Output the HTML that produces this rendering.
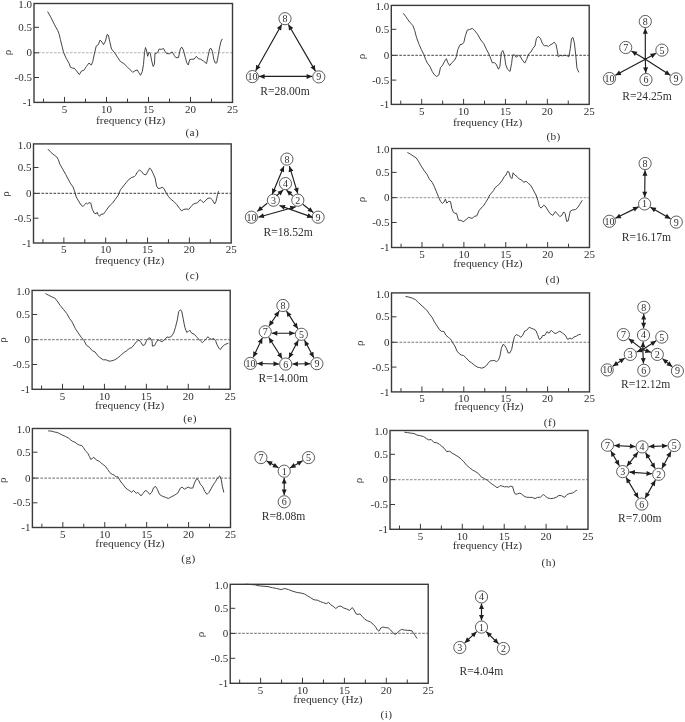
<!DOCTYPE html>
<html><head><meta charset="utf-8"><style>
html,body{margin:0;padding:0;background:#fff;}
body{width:685px;height:722px;overflow:hidden;}
svg{display:block;will-change:transform;}
text{font-family:"Liberation Serif",serif;fill:#303030;}
</style></head><body>
<svg width="685" height="722" viewBox="0 0 685 722">
<rect width="685" height="722" fill="#fff"/>
<line x1="34" y1="52.8" x2="232.5" y2="52.8" stroke="#b0b0b0" stroke-width="1.1" stroke-dasharray="2.6 1.4"/>
<polyline points="47.6,11.5 51,17.6 54.6,24.9 57.8,30.7 59,33.7 60.4,39.5 62.2,46.8 63.6,52.6 66.3,58.5 69.2,63.6 70.4,67.2 72.1,68 74.3,68.3 76.5,70.9 79.4,74.5 81.6,70.9 83.8,70.4 86.4,66.5 88.9,63.1 91.4,65 92.8,61.4 94.3,54.1 96.2,46.1 98.4,44.6 99.9,40.2 101.3,41.2 103.5,44.6 105.4,41.2 107.2,34.4 108.3,35.1 109.8,41.7 111.5,49 114.5,52.6 117.4,57 120.3,61.4 123.9,63.6 127.6,67.2 132.7,72.3 134.9,70.9 137.2,69.9 138.6,72.3 140.5,75.3 142.3,71.6 143.5,64.3 144.5,52.6 145.5,47.5 146.7,51.2 147.7,56.3 148.9,52.3 150.3,53.4 151.8,61.4 153.2,66.5 154.4,64.3 155,53.4 156.2,53.4 157.6,52.6 159.1,49 161.3,49.4 163.5,48.5 164.9,51.2 166.4,53.4 169.3,53.8 172.2,51.9 174.4,55.6 175.9,57.7 178.5,57.5 180.3,49 181.7,47.1 183.2,49.4 185.4,57.7 186.8,62.9 188.3,65 189.7,59.6 191.9,59.2 194.1,59.2 196.3,56.3 198.5,58.8 200.7,59.2 203.6,61.1 206.5,63.6 208,56.3 209.7,49 210.9,48.3 212.4,51.2 213.8,59.2 215.3,63.1 216.8,62.9 218.2,55.6 219.7,46.8 221.1,41 222.3,38.8" fill="none" stroke="#3c3c3c" stroke-width="0.95" stroke-linejoin="round"/>
<path d="M43.49 102.4v-3.8 M64.49 102.4v-5.5 M85.49 102.4v-3.8 M106.49 102.4v-5.5 M127.5 102.4v-3.8 M148.5 102.4v-5.5 M169.5 102.4v-3.8 M190.5 102.4v-5.5 M211.5 102.4v-3.8 M34 27.3h5 M34 52.8h5 M34 77.5h5" stroke="#3a3a3a" stroke-width="1" fill="none"/>
<rect x="34" y="3.5" width="198.5" height="98.9" fill="none" stroke="#3a3a3a" stroke-width="1.4"/>
<text x="64.49" y="112.8" text-anchor="middle" font-size="11">5</text>
<text x="106.49" y="112.8" text-anchor="middle" font-size="11">10</text>
<text x="148.5" y="112.8" text-anchor="middle" font-size="11">15</text>
<text x="190.5" y="112.8" text-anchor="middle" font-size="11">20</text>
<text x="232.5" y="112.8" text-anchor="middle" font-size="11">25</text>
<text x="32" y="8.3" text-anchor="end" font-size="11">1.0</text>
<text x="32" y="30.9" text-anchor="end" font-size="11">0.5</text>
<text x="32" y="56.4" text-anchor="end" font-size="11">0</text>
<text x="32" y="81.1" text-anchor="end" font-size="11">-0.5</text>
<text x="32" y="106" text-anchor="end" font-size="11">-1</text>
<text transform="translate(10.6,52.6) rotate(-90)" text-anchor="middle" font-size="11">ρ</text>
<text x="130.7" y="124.2" text-anchor="middle" font-size="11.4">frequency (Hz)</text>
<text x="192.3" y="135.9" text-anchor="middle" font-size="11.3" letter-spacing="0.4">(a)</text>
<line x1="391.3" y1="55.4" x2="589.2" y2="55.4" stroke="#6a6a6a" stroke-width="1.1" stroke-dasharray="2.6 1.4"/>
<polyline points="403.3,13.3 405.9,16.7 408.9,21.1 411.1,23.7 412.8,25.4 414.7,30.5 416.6,37.8 419.1,44.4 421.3,49.5 423.9,54.6 425.7,59.7 427.4,63.1 429.7,66 432.2,71.4 434.4,74.8 436.6,76.5 438.8,75.1 440.5,67.5 442.4,65.6 444.6,61.2 446.4,58.7 447.8,62.7 449.7,65.6 451.9,62.7 454.6,60.2 456.3,56.8 457.8,49.5 460,44.7 462.4,44.1 463.9,42.2 465.4,35.7 467.3,30.1 469.5,29.5 472.4,28.4 474.6,30.5 477.5,34.2 480.8,40 483.8,43.7 486.2,48.8 489.2,54.6 491.2,59.7 492.2,62.7 494.4,62.7 496.1,64.1 498.5,69.2 499.9,66.3 501.4,52.4 502.8,50.5 504.3,54.6 505.8,64.9 507.5,69.2 510.1,71.4 511.6,63.4 512.6,55.4 514.1,54.6 516.3,57.3 518.5,55.4 519.9,55.8 522.1,59.7 524.7,63.1 526.5,59.7 528.7,53.9 530.9,52 533.1,48.1 535,45.9 536.4,38.6 538.2,36.4 540.4,38.3 542.3,43.2 544.3,45.9 546.9,45.6 548.4,46.6 549.9,45.1 552,44.1 554.2,42.2 556,44.4 557.2,50.3 558.3,56.8 560.1,55.4 562.3,55.8 564.5,55.4 566.6,55.4 568.8,56.8 570.3,48.8 571.5,38.6 572.9,37.4 574.4,43 575.8,55.4 576.9,67.8 578.8,72.4" fill="none" stroke="#3c3c3c" stroke-width="0.95" stroke-linejoin="round"/>
<path d="M400.76 104.4v-3.8 M421.7 104.4v-5.5 M442.64 104.4v-3.8 M463.58 104.4v-5.5 M484.51 104.4v-3.8 M505.45 104.4v-5.5 M526.39 104.4v-3.8 M547.33 104.4v-5.5 M568.26 104.4v-3.8 M391.3 29.3h5 M391.3 55.4h5 M391.3 80.1h5" stroke="#3a3a3a" stroke-width="1" fill="none"/>
<rect x="391.3" y="5.4" width="197.9" height="99" fill="none" stroke="#3a3a3a" stroke-width="1.4"/>
<text x="421.7" y="114.8" text-anchor="middle" font-size="11">5</text>
<text x="463.58" y="114.8" text-anchor="middle" font-size="11">10</text>
<text x="505.45" y="114.8" text-anchor="middle" font-size="11">15</text>
<text x="547.33" y="114.8" text-anchor="middle" font-size="11">20</text>
<text x="589.2" y="114.8" text-anchor="middle" font-size="11">25</text>
<text x="389.3" y="10.2" text-anchor="end" font-size="11">1.0</text>
<text x="389.3" y="32.9" text-anchor="end" font-size="11">0.5</text>
<text x="389.3" y="59" text-anchor="end" font-size="11">0</text>
<text x="389.3" y="83.7" text-anchor="end" font-size="11">-0.5</text>
<text x="389.3" y="108" text-anchor="end" font-size="11">-1</text>
<text transform="translate(365.4,56.4) rotate(-90)" text-anchor="middle" font-size="11">ρ</text>
<text x="487.6" y="126" text-anchor="middle" font-size="11.4">frequency (Hz)</text>
<text x="553.6" y="139.9" text-anchor="middle" font-size="11.3" letter-spacing="0.4">(b)</text>
<line x1="33.5" y1="193.4" x2="231.2" y2="193.4" stroke="#606060" stroke-width="1.1" stroke-dasharray="2.6 1.4"/>
<polyline points="47.9,149.1 51.1,152.5 54.1,155 56.7,156.9 58.4,159.8 59.9,164.2 62.8,169.3 65.7,174.4 68.7,180.2 70.8,183.9 73,186.8 74.8,191.9 76.2,197 78.6,201.1 81.1,205 83,206.5 84.7,204.6 86.2,202.9 87.6,204 89.1,202.6 90.8,203.1 92.3,209.4 94.2,213.1 96.1,213.8 97.1,212.3 98.1,214.5 99.6,216.3 101.1,214.2 103.4,214.1 105.4,211.6 107.8,208 110.3,205 112.7,202.9 115.4,199.2 118,195.6 120.5,189.7 123.4,186.1 126.3,182.4 129.2,179.2 131.7,177.5 134.4,176.6 135.5,175.5 137.2,172.2 139.4,170 141.6,171.5 143.8,174.4 146,174.8 147.8,171.5 149.6,168.1 151.1,169.3 153.2,173.7 155.1,178 156.6,186.1 158.1,188.5 160.1,188.3 162.4,187.1 164.2,189 165.9,192.6 168.3,196.3 170.8,199.2 173.7,201.4 176.6,204.3 179.5,208.4 181.7,210.9 183.9,209.4 186.1,209 188.7,209.4 191.2,206.5 193.4,204 196.3,203.1 197.8,202.6 200,199.6 201.4,200.7 203.6,202.6 205.8,200.2 208,198.2 210.6,198.2 212.4,199.9 214.6,204 216,201.4 217.5,194.8 218.5,191.2" fill="none" stroke="#3c3c3c" stroke-width="0.95" stroke-linejoin="round"/>
<path d="M42.95 243v-3.8 M63.87 243v-5.5 M84.79 243v-3.8 M105.7 243v-5.5 M126.62 243v-3.8 M147.54 243v-5.5 M168.45 243v-3.8 M189.37 243v-5.5 M210.28 243v-3.8 M33.5 167.5h5 M33.5 193.4h5 M33.5 218.2h5" stroke="#3a3a3a" stroke-width="1" fill="none"/>
<rect x="33.5" y="143.9" width="197.7" height="99.1" fill="none" stroke="#3a3a3a" stroke-width="1.4"/>
<text x="63.87" y="253.4" text-anchor="middle" font-size="11">5</text>
<text x="105.7" y="253.4" text-anchor="middle" font-size="11">10</text>
<text x="147.54" y="253.4" text-anchor="middle" font-size="11">15</text>
<text x="189.37" y="253.4" text-anchor="middle" font-size="11">20</text>
<text x="231.2" y="253.4" text-anchor="middle" font-size="11">25</text>
<text x="31.5" y="148.7" text-anchor="end" font-size="11">1.0</text>
<text x="31.5" y="171.1" text-anchor="end" font-size="11">0.5</text>
<text x="31.5" y="197" text-anchor="end" font-size="11">0</text>
<text x="31.5" y="221.8" text-anchor="end" font-size="11">-0.5</text>
<text x="31.5" y="246.6" text-anchor="end" font-size="11">-1</text>
<text transform="translate(8.6,193.9) rotate(-90)" text-anchor="middle" font-size="11">ρ</text>
<text x="129.6" y="264.2" text-anchor="middle" font-size="11.4">frequency (Hz)</text>
<text x="192.4" y="279.1" text-anchor="middle" font-size="11.3" letter-spacing="0.4">(c)</text>
<line x1="391.6" y1="197.6" x2="589.5" y2="197.6" stroke="#a8a8a8" stroke-width="1.1" stroke-dasharray="2.6 1.4"/>
<polyline points="407.4,152.4 410.3,154.1 413.2,156 416.2,157.9 418.4,161.1 421,165.8 424.2,170.6 427.1,174.6 429.3,179 432.2,182.3 434.1,186.2 436.2,191.1 438.5,196.9 440.5,201.3 442.4,203.5 443.9,202 445.4,199.1 446.8,203.2 448.7,201.3 450.5,201.7 451.9,208.6 453.4,212.2 455.1,213.4 456.6,213.4 458.5,220.3 460.7,220.3 463.3,221.7 465.8,219.8 468.7,217.3 472.1,218.4 474.6,216.3 476.8,215.9 478.9,210.8 481.1,208.1 483.3,206.1 485.5,202.7 488.1,198.4 489.9,194.7 492.1,192.5 493.5,190.6 495.1,187.7 497.3,186 500.2,183 502.4,180.1 504.3,176.5 506.1,175 507.5,171.4 509,172.1 510.4,177.2 511.9,178.7 513.1,172.8 514.8,175 517,176.5 519.2,179 521.4,179.8 523.6,182.3 526.2,181.3 528.2,183.3 530.6,185.2 533.1,189.6 536,195 537.9,200.6 539.3,206.4 541.1,208.1 543.7,205.2 545.5,206.4 547.7,210 549.9,213.4 552.8,215.4 555.4,211.5 557.2,213.7 559.8,216.6 561.8,215.4 563.7,211.9 565.2,213.7 566.6,221.3 568.1,221 570.3,211.1 572.5,210 575.4,209.6 577.6,207.6 579.8,204.2 582.3,200.3" fill="none" stroke="#3c3c3c" stroke-width="0.95" stroke-linejoin="round"/>
<path d="M401.06 247.5v-3.8 M422 247.5v-5.5 M442.94 247.5v-3.8 M463.88 247.5v-5.5 M484.81 247.5v-3.8 M505.75 247.5v-5.5 M526.69 247.5v-3.8 M547.63 247.5v-5.5 M568.56 247.5v-3.8 M391.6 172.4h5 M391.6 197.6h5 M391.6 222.5h5" stroke="#3a3a3a" stroke-width="1" fill="none"/>
<rect x="391.6" y="148.5" width="197.9" height="99" fill="none" stroke="#3a3a3a" stroke-width="1.4"/>
<text x="422" y="257.9" text-anchor="middle" font-size="11">5</text>
<text x="463.88" y="257.9" text-anchor="middle" font-size="11">10</text>
<text x="505.75" y="257.9" text-anchor="middle" font-size="11">15</text>
<text x="547.63" y="257.9" text-anchor="middle" font-size="11">20</text>
<text x="589.5" y="257.9" text-anchor="middle" font-size="11">25</text>
<text x="389.6" y="153.3" text-anchor="end" font-size="11">1.0</text>
<text x="389.6" y="176" text-anchor="end" font-size="11">0.5</text>
<text x="389.6" y="201.2" text-anchor="end" font-size="11">0</text>
<text x="389.6" y="226.1" text-anchor="end" font-size="11">-0.5</text>
<text x="389.6" y="251.1" text-anchor="end" font-size="11">-1</text>
<text transform="translate(365.4,199.4) rotate(-90)" text-anchor="middle" font-size="11">ρ</text>
<text x="487.9" y="266.7" text-anchor="middle" font-size="11.4">frequency (Hz)</text>
<text x="552.7" y="282.7" text-anchor="middle" font-size="11.3" letter-spacing="0.4">(d)</text>
<line x1="32.1" y1="339.6" x2="230.2" y2="339.6" stroke="#888" stroke-width="1.1" stroke-dasharray="2.6 1.4"/>
<polyline points="45.5,293.6 48.4,295.1 52.1,297 54.7,298 57.2,301 60.1,305.3 63.7,309.7 66.7,313.4 69.6,318.5 72.2,322.1 75.1,328.2 78.3,333.1 81.3,337.4 84.2,340.8 86.4,345.2 89.3,347.2 92.2,350.6 95.1,352 97.3,355 100.2,357.9 103.4,359.8 106.1,359.8 109,361.2 111.9,360.8 114.8,359.8 117.8,357.9 120.7,355.4 123.6,352.8 126.8,350.6 129.4,348.4 131.6,347.7 134.2,344.7 136.4,341.8 139,339.9 141.1,342.6 142.9,345.5 144.8,344.7 146.6,340.4 148.4,338.2 150.2,337.9 152.1,341.1 152.4,346.2 154.6,345.5 156.1,342.6 158,339.9 159.7,340.4 161.9,341.8 164.4,339.9 167,337 169.2,337.4 171.4,336.4 173.6,333.1 175.5,327.2 177.3,319.9 178.7,311.6 180.5,309.7 181.9,311.9 183.4,319.9 184.8,327.2 186.7,332.3 188.2,331.6 189.7,330.1 191.6,333.1 194,334.1 196.2,336.4 198.4,338.9 200.6,341.1 202.4,342.6 204.3,340.8 206.5,338.5 207.9,336.7 209.7,338.5 211.6,339.3 213.8,338.5 215.5,340.4 217,344.7 218.9,348.1 220.3,349.6 222.2,346.9 224.7,344.7 226.9,343.7 228.4,343.3" fill="none" stroke="#3c3c3c" stroke-width="0.95" stroke-linejoin="round"/>
<path d="M41.57 389.3v-3.8 M62.53 389.3v-5.5 M83.49 389.3v-3.8 M104.45 389.3v-5.5 M125.41 389.3v-3.8 M146.37 389.3v-5.5 M167.32 389.3v-3.8 M188.28 389.3v-5.5 M209.24 389.3v-3.8 M32.1 314.5h5 M32.1 339.6h5 M32.1 364.5h5" stroke="#3a3a3a" stroke-width="1" fill="none"/>
<rect x="32.1" y="290.4" width="198.1" height="98.9" fill="none" stroke="#3a3a3a" stroke-width="1.4"/>
<text x="62.53" y="399.7" text-anchor="middle" font-size="11">5</text>
<text x="104.45" y="399.7" text-anchor="middle" font-size="11">10</text>
<text x="146.37" y="399.7" text-anchor="middle" font-size="11">15</text>
<text x="188.28" y="399.7" text-anchor="middle" font-size="11">20</text>
<text x="230.2" y="399.7" text-anchor="middle" font-size="11">25</text>
<text x="30.1" y="295.2" text-anchor="end" font-size="11">1.0</text>
<text x="30.1" y="318.1" text-anchor="end" font-size="11">0.5</text>
<text x="30.1" y="343.2" text-anchor="end" font-size="11">0</text>
<text x="30.1" y="368.1" text-anchor="end" font-size="11">-0.5</text>
<text x="30.1" y="392.9" text-anchor="end" font-size="11">-1</text>
<text transform="translate(6.3,340.1) rotate(-90)" text-anchor="middle" font-size="11">ρ</text>
<text x="129.6" y="408.6" text-anchor="middle" font-size="11.4">frequency (Hz)</text>
<text x="190" y="422.1" text-anchor="middle" font-size="11.3" letter-spacing="0.4">(e)</text>
<line x1="391.5" y1="342.3" x2="589.5" y2="342.3" stroke="#777" stroke-width="1.1" stroke-dasharray="2.6 1.4"/>
<polyline points="405.5,296.4 408.9,297.1 412.2,298.1 415.4,299.6 418.4,302.5 422,305.9 424.9,308.4 427.4,311 429.3,313.9 432.2,317.5 434.4,321.9 437,325.9 439.5,329.7 441.4,331.4 443.9,331.4 445.8,335.1 448.3,337.3 450.5,339 452.7,342.8 454.9,346 457,351.1 459.2,353.6 461.4,355.1 463.6,355.5 466.2,358 468.7,360.9 471.6,362.8 474.6,365.3 477.5,367.2 479.7,367.6 481.9,368.2 484.3,367.2 486.7,365.3 488.4,362.8 490.2,360.9 492.8,360.6 494.1,360.3 496.6,361.8 498.5,359.9 499.9,356.2 501.4,348.2 503.1,344.3 504.6,345.3 506.4,348.2 508.2,353 509.7,353 511.6,349.7 513.1,342.4 514.5,336.5 516.3,334.6 518.5,335.5 520.9,337.3 522.8,335.1 524.7,331.1 526.8,330.2 529.1,327.3 531.2,328.2 533.8,329.2 536,330.7 537.4,334.3 539.3,339.4 541.1,338.4 542.6,335.5 544.7,335.5 546.9,331.7 549.1,333.2 551.3,330.2 553.1,332.1 555,333.6 557.4,332.6 559.8,331.1 562.3,332.9 565.2,335.1 567.7,339.4 570,338 571.8,339 573.9,337 576.4,336.1 578.8,334.6 580.8,334.3" fill="none" stroke="#3c3c3c" stroke-width="0.95" stroke-linejoin="round"/>
<path d="M400.97 391.9v-3.8 M421.92 391.9v-5.5 M442.86 391.9v-3.8 M463.81 391.9v-5.5 M484.76 391.9v-3.8 M505.71 391.9v-5.5 M526.66 391.9v-3.8 M547.6 391.9v-5.5 M568.55 391.9v-3.8 M391.5 316.8h5 M391.5 342.3h5 M391.5 367.1h5" stroke="#3a3a3a" stroke-width="1" fill="none"/>
<rect x="391.5" y="292.9" width="198" height="99" fill="none" stroke="#3a3a3a" stroke-width="1.4"/>
<text x="421.92" y="402.3" text-anchor="middle" font-size="11">5</text>
<text x="463.81" y="402.3" text-anchor="middle" font-size="11">10</text>
<text x="505.71" y="402.3" text-anchor="middle" font-size="11">15</text>
<text x="547.6" y="402.3" text-anchor="middle" font-size="11">20</text>
<text x="589.5" y="402.3" text-anchor="middle" font-size="11">25</text>
<text x="389.5" y="297.7" text-anchor="end" font-size="11">1.0</text>
<text x="389.5" y="320.4" text-anchor="end" font-size="11">0.5</text>
<text x="389.5" y="345.9" text-anchor="end" font-size="11">0</text>
<text x="389.5" y="370.7" text-anchor="end" font-size="11">-0.5</text>
<text x="389.5" y="395.5" text-anchor="end" font-size="11">-1</text>
<text transform="translate(363.1,343.2) rotate(-90)" text-anchor="middle" font-size="11">ρ</text>
<text x="489" y="409.7" text-anchor="middle" font-size="11.4">frequency (Hz)</text>
<text x="550" y="425.7" text-anchor="middle" font-size="11.3" letter-spacing="0.4">(f)</text>
<line x1="32.4" y1="478.1" x2="230.5" y2="478.1" stroke="#888" stroke-width="1.1" stroke-dasharray="2.6 1.4"/>
<polyline points="48.2,430.9 51.9,431.2 54.8,432.1 57,432.4 59.9,433.8 62.8,435.3 65.7,436.5 68.7,438.2 70.8,440 72.7,441.4 75.2,442.3 77.4,444.1 79.6,445.2 81.8,445.5 83.5,447.7 85.4,450.6 87.9,453.5 89.4,456.5 90.8,459.4 92.3,458.4 93.8,457.2 95.2,459 97.1,460.4 99.3,461.3 101.1,463 103.4,464.8 105.4,466.2 107.8,469.6 109.8,472.5 112.2,474.4 114.2,475 116.1,476.9 117.6,476.5 119,478.8 120.9,482 123.4,484.9 125.6,487.9 127.8,489.6 129.7,490.8 131.4,492.2 133.6,490.5 135.1,492.2 136.5,493.4 137.6,492.2 141,495.9 143,493.4 145.4,490.5 147.4,491.5 149.8,494.4 151.8,492.2 153.7,487.6 155.6,486.4 157.4,489.3 159.5,494.4 162.5,496.3 165.4,497.3 168.3,498.5 171.2,496.9 174.6,495.2 177.8,493 180.4,488.1 182.2,487.1 184.4,489.3 186.3,488.1 188.3,487.1 190.2,488.1 192.7,488.1 194.6,482.7 196.8,478.4 198.5,480.3 200.4,484.2 202.6,486.7 204.8,491.5 207,494.4 209.2,492.2 211.4,488.1 213.6,484.2 215.5,481.7 217.2,478.4 219.8,475.9 221.3,479.8 222.3,486.1 223.8,492.5" fill="none" stroke="#3c3c3c" stroke-width="0.95" stroke-linejoin="round"/>
<path d="M41.87 527.5v-3.8 M62.83 527.5v-5.5 M83.79 527.5v-3.8 M104.75 527.5v-5.5 M125.71 527.5v-3.8 M146.67 527.5v-5.5 M167.62 527.5v-3.8 M188.58 527.5v-5.5 M209.54 527.5v-3.8 M32.4 452.2h5 M32.4 478.1h5 M32.4 502.8h5" stroke="#3a3a3a" stroke-width="1" fill="none"/>
<rect x="32.4" y="428.5" width="198.1" height="99" fill="none" stroke="#3a3a3a" stroke-width="1.4"/>
<text x="62.83" y="537.9" text-anchor="middle" font-size="11">5</text>
<text x="104.75" y="537.9" text-anchor="middle" font-size="11">10</text>
<text x="146.67" y="537.9" text-anchor="middle" font-size="11">15</text>
<text x="188.58" y="537.9" text-anchor="middle" font-size="11">20</text>
<text x="230.5" y="537.9" text-anchor="middle" font-size="11">25</text>
<text x="30.4" y="433.3" text-anchor="end" font-size="11">1.0</text>
<text x="30.4" y="455.8" text-anchor="end" font-size="11">0.5</text>
<text x="30.4" y="481.7" text-anchor="end" font-size="11">0</text>
<text x="30.4" y="506.4" text-anchor="end" font-size="11">-0.5</text>
<text x="30.4" y="531.1" text-anchor="end" font-size="11">-1</text>
<text transform="translate(6.3,480.3) rotate(-90)" text-anchor="middle" font-size="11">ρ</text>
<text x="130" y="547.2" text-anchor="middle" font-size="11.4">frequency (Hz)</text>
<text x="188.5" y="562.1" text-anchor="middle" font-size="11.3" letter-spacing="0.4">(g)</text>
<line x1="390" y1="479.6" x2="588" y2="479.6" stroke="#a0a0a0" stroke-width="1.1" stroke-dasharray="2.6 1.4"/>
<polyline points="404.4,432.2 407.6,432.6 411.2,433.2 414.2,433.6 417.1,435.1 420.7,435.8 423.7,436.6 426.3,438.5 428.8,439.9 431.2,439.5 433.9,442.4 436.8,442.8 439.4,444.3 441.9,446.4 444.1,448.2 446.7,451.6 449.6,451.2 452.1,453.1 455,454.8 458,456.6 461.3,459.2 463.8,461.8 466.7,465.3 469.6,467.7 472.6,470.1 475.5,471.6 478.4,473.5 481.3,477 484.2,478.5 487.6,480.4 490.1,482.6 492.2,484.3 494.4,485.5 497,487.7 498.8,486.9 500.2,485.5 502.4,486.2 504.6,486.9 506.4,486.6 508.7,487.2 510.4,486.2 512.6,486.6 514.1,492 515.5,494.2 517.4,493.9 519.9,493.1 521.8,494.2 523.9,496 526.2,497.2 529.4,497.4 532.3,497.4 535,498.6 537.4,497.4 540.4,497.2 542.3,495.4 543.7,494.5 545.5,496.4 547.7,497.9 550.6,498.6 553.5,498.3 556.4,497.2 558.9,495.4 561.5,495.7 564.5,497.4 567.1,494.5 569.6,493.5 572.5,493.1 574.7,491.6 576.9,490.1" fill="none" stroke="#3c3c3c" stroke-width="0.95" stroke-linejoin="round"/>
<path d="M399.47 529.3v-3.8 M420.42 529.3v-5.5 M441.36 529.3v-3.8 M462.31 529.3v-5.5 M483.26 529.3v-3.8 M504.21 529.3v-5.5 M525.16 529.3v-3.8 M546.1 529.3v-5.5 M567.05 529.3v-3.8 M390 454.3h5 M390 479.6h5 M390 504.5h5" stroke="#3a3a3a" stroke-width="1" fill="none"/>
<rect x="390" y="430.5" width="198" height="98.8" fill="none" stroke="#3a3a3a" stroke-width="1.4"/>
<text x="420.42" y="539.7" text-anchor="middle" font-size="11">5</text>
<text x="462.31" y="539.7" text-anchor="middle" font-size="11">10</text>
<text x="504.21" y="539.7" text-anchor="middle" font-size="11">15</text>
<text x="546.1" y="539.7" text-anchor="middle" font-size="11">20</text>
<text x="588" y="539.7" text-anchor="middle" font-size="11">25</text>
<text x="388" y="435.3" text-anchor="end" font-size="11">1.0</text>
<text x="388" y="457.9" text-anchor="end" font-size="11">0.5</text>
<text x="388" y="483.2" text-anchor="end" font-size="11">0</text>
<text x="388" y="508.1" text-anchor="end" font-size="11">-0.5</text>
<text x="388" y="532.9" text-anchor="end" font-size="11">-1</text>
<text transform="translate(362.1,480.4) rotate(-90)" text-anchor="middle" font-size="11">ρ</text>
<text x="487.4" y="548.9" text-anchor="middle" font-size="11.4">frequency (Hz)</text>
<text x="548.8" y="566.1" text-anchor="middle" font-size="11.3" letter-spacing="0.4">(h)</text>
<line x1="230.2" y1="633.4" x2="428.2" y2="633.4" stroke="#888" stroke-width="1.1" stroke-dasharray="2.6 1.4"/>
<polyline points="245.4,584.2 254.9,584.8 259.3,585.9 268,586.6 272.4,587.7 276.8,588.5 281.2,589.6 284.8,588.5 288.5,589.6 292.9,591.3 297.2,592.5 300.9,593 304.5,594 307.5,595.8 310.4,597.6 314,599.8 317.4,600.2 320.6,601.7 323.5,602.7 326.4,603.7 328.6,602.3 330.5,604.6 332.9,606.1 335.8,608.5 338.5,606.4 340.9,606.1 343.9,608.1 346.8,609 349.7,610.4 352.2,607.5 354.1,610 356,613.9 358,614.4 359.9,613.9 362.1,616.3 364.7,619.2 367.2,620.7 370.1,621.7 373.1,624.2 375.5,626.8 377.4,630 378.9,631.2 380.8,628 382.8,627.1 385.5,627.5 388.4,628 390.6,630 392.8,632.6 395,634.4 396.9,633.4 398.9,631.2 401.5,629.4 404.5,630 407.4,630.4 410,630.4 412,630.9 413.9,633.8 415.4,635.8 416.9,638.5" fill="none" stroke="#3c3c3c" stroke-width="0.95" stroke-linejoin="round"/>
<path d="M239.67 683.3v-3.8 M260.62 683.3v-5.5 M281.56 683.3v-3.8 M302.51 683.3v-5.5 M323.46 683.3v-3.8 M344.41 683.3v-5.5 M365.36 683.3v-3.8 M386.3 683.3v-5.5 M407.25 683.3v-3.8 M230.2 608.3h5 M230.2 633.4h5 M230.2 658.3h5" stroke="#3a3a3a" stroke-width="1" fill="none"/>
<rect x="230.2" y="584.3" width="198" height="99" fill="none" stroke="#3a3a3a" stroke-width="1.4"/>
<text x="260.62" y="693.7" text-anchor="middle" font-size="11">5</text>
<text x="302.51" y="693.7" text-anchor="middle" font-size="11">10</text>
<text x="344.41" y="693.7" text-anchor="middle" font-size="11">15</text>
<text x="386.3" y="693.7" text-anchor="middle" font-size="11">20</text>
<text x="428.2" y="693.7" text-anchor="middle" font-size="11">25</text>
<text x="228.2" y="589.1" text-anchor="end" font-size="11">1.0</text>
<text x="228.2" y="611.9" text-anchor="end" font-size="11">0.5</text>
<text x="228.2" y="637" text-anchor="end" font-size="11">0</text>
<text x="228.2" y="661.9" text-anchor="end" font-size="11">-0.5</text>
<text x="228.2" y="686.9" text-anchor="end" font-size="11">-1</text>
<text transform="translate(204.2,634.6) rotate(-90)" text-anchor="middle" font-size="11">ρ</text>
<text x="327.9" y="702.5" text-anchor="middle" font-size="11.4">frequency (Hz)</text>
<text x="386.5" y="718.1" text-anchor="middle" font-size="11.3" letter-spacing="0.4">(i)</text>
<circle cx="285" cy="18.7" r="6.1" fill="#fff" stroke="#333" stroke-width="0.8"/>
<text x="285" y="22.1" text-anchor="middle" font-size="10">8</text>
<circle cx="252.4" cy="76.6" r="6.1" fill="#fff" stroke="#333" stroke-width="0.8"/>
<text x="252.4" y="80" text-anchor="middle" font-size="10" textLength="10" lengthAdjust="spacingAndGlyphs">10</text>
<circle cx="318.8" cy="76.9" r="6.1" fill="#fff" stroke="#333" stroke-width="0.8"/>
<text x="318.8" y="80.3" text-anchor="middle" font-size="10">9</text>
<text x="285" y="95" text-anchor="middle" font-size="11.6">R=28.00m</text>
<circle cx="645.3" cy="21.5" r="6.1" fill="#fff" stroke="#333" stroke-width="0.8"/>
<text x="645.3" y="24.9" text-anchor="middle" font-size="10">8</text>
<circle cx="625.7" cy="47.5" r="6.1" fill="#fff" stroke="#333" stroke-width="0.8"/>
<text x="625.7" y="50.9" text-anchor="middle" font-size="10">7</text>
<circle cx="661.9" cy="50.1" r="6.1" fill="#fff" stroke="#333" stroke-width="0.8"/>
<text x="661.9" y="53.5" text-anchor="middle" font-size="10">5</text>
<circle cx="609.5" cy="78.5" r="6.1" fill="#fff" stroke="#333" stroke-width="0.8"/>
<text x="609.5" y="81.9" text-anchor="middle" font-size="10" textLength="10" lengthAdjust="spacingAndGlyphs">10</text>
<circle cx="646" cy="79.6" r="6.1" fill="#fff" stroke="#333" stroke-width="0.8"/>
<text x="646" y="83" text-anchor="middle" font-size="10">6</text>
<circle cx="676" cy="78.9" r="6.1" fill="#fff" stroke="#333" stroke-width="0.8"/>
<text x="676" y="82.3" text-anchor="middle" font-size="10">9</text>
<text x="647" y="99.5" text-anchor="middle" font-size="11.6">R=24.25m</text>
<circle cx="286.9" cy="159.1" r="6.1" fill="#fff" stroke="#333" stroke-width="0.8"/>
<text x="286.9" y="162.5" text-anchor="middle" font-size="10">8</text>
<circle cx="285.5" cy="183.6" r="6.1" fill="#fff" stroke="#333" stroke-width="0.8"/>
<text x="285.5" y="187" text-anchor="middle" font-size="10">4</text>
<circle cx="273.4" cy="200.2" r="6.1" fill="#fff" stroke="#333" stroke-width="0.8"/>
<text x="273.4" y="203.6" text-anchor="middle" font-size="10">3</text>
<circle cx="297.8" cy="200.2" r="6.1" fill="#fff" stroke="#333" stroke-width="0.8"/>
<text x="297.8" y="203.6" text-anchor="middle" font-size="10">2</text>
<circle cx="251.4" cy="217.2" r="6.1" fill="#fff" stroke="#333" stroke-width="0.8"/>
<text x="251.4" y="220.6" text-anchor="middle" font-size="10" textLength="10" lengthAdjust="spacingAndGlyphs">10</text>
<circle cx="318.1" cy="217.2" r="6.1" fill="#fff" stroke="#333" stroke-width="0.8"/>
<text x="318.1" y="220.6" text-anchor="middle" font-size="10">9</text>
<text x="288.2" y="235.5" text-anchor="middle" font-size="11.6">R=18.52m</text>
<circle cx="645.1" cy="163.5" r="6.1" fill="#fff" stroke="#333" stroke-width="0.8"/>
<text x="645.1" y="166.9" text-anchor="middle" font-size="10">8</text>
<circle cx="644.6" cy="203.9" r="6.1" fill="#fff" stroke="#333" stroke-width="0.8"/>
<text x="644.6" y="207.3" text-anchor="middle" font-size="10">1</text>
<circle cx="609.4" cy="221.3" r="6.1" fill="#fff" stroke="#333" stroke-width="0.8"/>
<text x="609.4" y="224.7" text-anchor="middle" font-size="10" textLength="10" lengthAdjust="spacingAndGlyphs">10</text>
<circle cx="676.3" cy="222.1" r="6.1" fill="#fff" stroke="#333" stroke-width="0.8"/>
<text x="676.3" y="225.5" text-anchor="middle" font-size="10">9</text>
<text x="646.4" y="240.5" text-anchor="middle" font-size="11.6">R=16.17m</text>
<circle cx="282.9" cy="305.5" r="6.1" fill="#fff" stroke="#333" stroke-width="0.8"/>
<text x="282.9" y="308.9" text-anchor="middle" font-size="10">8</text>
<circle cx="265.2" cy="331.8" r="6.1" fill="#fff" stroke="#333" stroke-width="0.8"/>
<text x="265.2" y="335.2" text-anchor="middle" font-size="10">7</text>
<circle cx="301.4" cy="334.3" r="6.1" fill="#fff" stroke="#333" stroke-width="0.8"/>
<text x="301.4" y="337.7" text-anchor="middle" font-size="10">5</text>
<circle cx="250.4" cy="363.4" r="6.1" fill="#fff" stroke="#333" stroke-width="0.8"/>
<text x="250.4" y="366.8" text-anchor="middle" font-size="10" textLength="10" lengthAdjust="spacingAndGlyphs">10</text>
<circle cx="285.7" cy="364.1" r="6.1" fill="#fff" stroke="#333" stroke-width="0.8"/>
<text x="285.7" y="367.5" text-anchor="middle" font-size="10">6</text>
<circle cx="316.9" cy="363.7" r="6.1" fill="#fff" stroke="#333" stroke-width="0.8"/>
<text x="316.9" y="367.1" text-anchor="middle" font-size="10">9</text>
<text x="283.3" y="381.8" text-anchor="middle" font-size="11.6">R=14.00m</text>
<circle cx="643.8" cy="307.3" r="6.1" fill="#fff" stroke="#333" stroke-width="0.8"/>
<text x="643.8" y="310.7" text-anchor="middle" font-size="10">8</text>
<circle cx="623.4" cy="334.6" r="6.1" fill="#fff" stroke="#333" stroke-width="0.8"/>
<text x="623.4" y="338" text-anchor="middle" font-size="10">7</text>
<circle cx="643.5" cy="335" r="6.1" fill="#fff" stroke="#333" stroke-width="0.8"/>
<text x="643.5" y="338.4" text-anchor="middle" font-size="10">4</text>
<circle cx="661.8" cy="337.1" r="6.1" fill="#fff" stroke="#333" stroke-width="0.8"/>
<text x="661.8" y="340.5" text-anchor="middle" font-size="10">5</text>
<circle cx="630.3" cy="354.4" r="6.1" fill="#fff" stroke="#333" stroke-width="0.8"/>
<text x="630.3" y="357.8" text-anchor="middle" font-size="10">3</text>
<circle cx="657.3" cy="354.4" r="6.1" fill="#fff" stroke="#333" stroke-width="0.8"/>
<text x="657.3" y="357.8" text-anchor="middle" font-size="10">2</text>
<circle cx="607.2" cy="369.9" r="6.1" fill="#fff" stroke="#333" stroke-width="0.8"/>
<text x="607.2" y="373.3" text-anchor="middle" font-size="10" textLength="10" lengthAdjust="spacingAndGlyphs">10</text>
<circle cx="643.8" cy="370.3" r="6.1" fill="#fff" stroke="#333" stroke-width="0.8"/>
<text x="643.8" y="373.7" text-anchor="middle" font-size="10">6</text>
<circle cx="677.4" cy="371" r="6.1" fill="#fff" stroke="#333" stroke-width="0.8"/>
<text x="677.4" y="374.4" text-anchor="middle" font-size="10">9</text>
<text x="645.7" y="387.7" text-anchor="middle" font-size="11.6">R=12.12m</text>
<circle cx="260.9" cy="457.6" r="6.1" fill="#fff" stroke="#333" stroke-width="0.8"/>
<text x="260.9" y="461" text-anchor="middle" font-size="10">7</text>
<circle cx="308.5" cy="457.6" r="6.1" fill="#fff" stroke="#333" stroke-width="0.8"/>
<text x="308.5" y="461" text-anchor="middle" font-size="10">5</text>
<circle cx="284.2" cy="471.2" r="6.1" fill="#fff" stroke="#333" stroke-width="0.8"/>
<text x="284.2" y="474.6" text-anchor="middle" font-size="10">1</text>
<circle cx="284.2" cy="501.8" r="6.1" fill="#fff" stroke="#333" stroke-width="0.8"/>
<text x="284.2" y="505.2" text-anchor="middle" font-size="10">6</text>
<text x="283.5" y="520.3" text-anchor="middle" font-size="11.6">R=8.08m</text>
<circle cx="607.5" cy="445.2" r="6.1" fill="#fff" stroke="#333" stroke-width="0.8"/>
<text x="607.5" y="448.6" text-anchor="middle" font-size="10">7</text>
<circle cx="642.1" cy="446.9" r="6.1" fill="#fff" stroke="#333" stroke-width="0.8"/>
<text x="642.1" y="450.3" text-anchor="middle" font-size="10">4</text>
<circle cx="674.2" cy="445.5" r="6.1" fill="#fff" stroke="#333" stroke-width="0.8"/>
<text x="674.2" y="448.9" text-anchor="middle" font-size="10">5</text>
<circle cx="622.7" cy="471.6" r="6.1" fill="#fff" stroke="#333" stroke-width="0.8"/>
<text x="622.7" y="475" text-anchor="middle" font-size="10">3</text>
<circle cx="658.7" cy="474.3" r="6.1" fill="#fff" stroke="#333" stroke-width="0.8"/>
<text x="658.7" y="477.7" text-anchor="middle" font-size="10">2</text>
<circle cx="641.8" cy="504.1" r="6.1" fill="#fff" stroke="#333" stroke-width="0.8"/>
<text x="641.8" y="507.5" text-anchor="middle" font-size="10">6</text>
<text x="639.8" y="521.8" text-anchor="middle" font-size="11.6">R=7.00m</text>
<circle cx="481.5" cy="596.9" r="6.1" fill="#fff" stroke="#333" stroke-width="0.8"/>
<text x="481.5" y="600.3" text-anchor="middle" font-size="10">4</text>
<circle cx="481.5" cy="627.1" r="6.1" fill="#fff" stroke="#333" stroke-width="0.8"/>
<text x="481.5" y="630.5" text-anchor="middle" font-size="10">1</text>
<circle cx="459.8" cy="647.5" r="6.1" fill="#fff" stroke="#333" stroke-width="0.8"/>
<text x="459.8" y="650.9" text-anchor="middle" font-size="10">3</text>
<circle cx="503.4" cy="648.5" r="6.1" fill="#fff" stroke="#333" stroke-width="0.8"/>
<text x="503.4" y="651.9" text-anchor="middle" font-size="10">2</text>
<text x="481.4" y="675.4" text-anchor="middle" font-size="11.6">R=4.04m</text>
<path d="M281.71 24.54L255.69 70.76M288.36 24.49L315.44 71.11M259.1 76.4L312.12 76.4M645.3 59.3L645.3 28.2M645.3 59.3L631.44 50.96M645.3 59.3L656.04 53.35M645.3 59.3L615.4 75.33M645.3 59.3L645.77 72.9M645.3 59.3L670.35 75.29M283.9 166.2L272.2 194.3M289.4 166.2L297.8 193.6M276.6 195.8L283.2 189.9M292.7 195.8L286.5 190.3M267.2 203.2L257.3 211.4M302.8 204.3L313.3 212.5M295.8 206.7L258.4 217.2M279.5 205.5L312.7 217.4M645.02 170.2L644.68 197.2M638.59 206.87L615.41 218.33M650.41 207.24L670.49 218.76M279.16 311.06L268.94 326.24M286.52 311.14L297.78 328.66M271.75 333.2L294.79 333.2M262.36 337.87L253.24 357.33M268.79 337.46L282.11 358.44M298.28 340.23L288.82 358.17M304.52 340.23L313.78 357.77M257.1 363.53L279 363.97M292.4 364.01L310.2 363.79M643.73 314L643.57 328.3M624.74 358.13L612.76 366.17M662.47 358.67L672.23 366.73M642.8 349.6L628.7 338.7M642.8 349.6L643.18 341.69M642.8 349.6L656.2 340.78M642.8 349.6L636.55 352M642.8 349.6L650.94 352.29M642.8 349.6L643.48 363.61M266.69 460.98L278.41 467.82M302.65 460.87L290.05 467.93M284.2 477.9L284.2 495.1M614.19 445.53L635.41 446.57M648.79 446.61L667.51 445.79M610.84 451.01L619.36 465.79M637.96 452.17L626.84 466.33M645.57 452.63L655.23 468.57M671.02 451.4L661.88 468.4M629.38 472.1L652.02 473.8M626.09 477.38L638.41 498.32M655.39 480.13L645.11 498.27M481.5 603.6L481.5 620.4M476.62 631.69L464.68 642.91M486.29 631.78L498.61 643.82" stroke="#1e1e1e" stroke-width="1.15" fill="none"/>
<path d="M255.69 70.76L256.21 64.74L260.56 67.2ZM281.71 24.54L281.19 30.56L276.84 28.1ZM315.44 71.11L310.51 67.61L314.83 65.09ZM288.36 24.49L293.29 27.99L288.97 30.51ZM312.12 76.4L306.62 78.9L306.62 73.9ZM259.1 76.4L264.6 73.9L264.6 78.9ZM645.3 28.2L647.8 33.7L642.8 33.7ZM631.44 50.96L637.44 51.65L634.86 55.93ZM656.04 53.35L652.44 58.2L650.02 53.83ZM615.4 75.33L619.07 70.53L621.43 74.94ZM645.77 72.9L643.08 67.49L648.08 67.32ZM670.35 75.29L664.37 74.44L667.06 70.23ZM272.2 194.3L272.01 188.26L276.62 190.18ZM283.9 166.2L284.09 172.24L279.48 170.32ZM297.8 193.6L293.8 189.07L298.58 187.61ZM289.4 166.2L293.4 170.73L288.62 172.19ZM283.2 189.9L280.77 195.43L277.43 191.7ZM286.5 190.3L292.27 192.08L288.96 195.82ZM257.3 211.4L259.94 205.97L263.13 209.82ZM313.3 212.5L307.43 211.09L310.5 207.14ZM258.4 217.2L263.02 213.31L264.37 218.12ZM295.8 206.7L291.18 210.59L289.83 205.78ZM312.7 217.4L306.68 217.9L308.37 213.19ZM279.5 205.5L285.52 205L283.83 209.71ZM644.68 197.2L642.25 191.67L647.25 191.73ZM645.02 170.2L647.45 175.73L642.45 175.67ZM615.41 218.33L619.23 213.65L621.44 218.13ZM638.59 206.87L634.77 211.55L632.56 207.07ZM670.49 218.76L664.48 218.19L666.96 213.86ZM650.41 207.24L656.42 207.81L653.94 212.14ZM268.94 326.24L269.94 320.28L274.09 323.07ZM279.16 311.06L278.16 317.02L274.01 314.23ZM297.78 328.66L292.7 325.39L296.91 322.68ZM286.52 311.14L291.6 314.41L287.39 317.12ZM294.79 333.2L289.29 335.7L289.29 330.7ZM271.75 333.2L277.25 330.7L277.25 335.7ZM253.24 357.33L253.31 351.29L257.84 353.41ZM262.36 337.87L262.29 343.91L257.76 341.79ZM282.11 358.44L277.05 355.14L281.27 352.46ZM268.79 337.46L273.85 340.76L269.63 343.44ZM288.82 358.17L289.17 352.14L293.6 354.47ZM298.28 340.23L297.93 346.26L293.5 343.93ZM313.78 357.77L309 354.07L313.42 351.74ZM304.52 340.23L309.3 343.93L304.88 346.26ZM279 363.97L273.45 366.36L273.55 361.36ZM257.1 363.53L262.65 361.14L262.55 366.14ZM310.2 363.79L304.73 366.36L304.67 361.36ZM292.4 364.01L297.87 361.44L297.93 366.44ZM643.57 328.3L641.13 322.77L646.13 322.83ZM643.73 314L646.17 319.53L641.17 319.47ZM612.76 366.17L615.94 361.03L618.72 365.18ZM624.74 358.13L621.56 363.27L618.78 359.12ZM672.23 366.73L666.4 365.16L669.59 361.3ZM662.47 358.67L668.3 360.24L665.11 364.1ZM628.7 338.7L634.58 340.08L631.52 344.04ZM643.18 341.69L645.41 347.31L640.42 347.07ZM656.2 340.78L652.98 345.89L650.23 341.72ZM636.55 352L640.79 347.69L642.59 352.36ZM650.94 352.29L644.93 352.94L646.5 348.19ZM643.48 363.61L640.71 358.23L645.71 357.99ZM278.41 467.82L272.4 467.21L274.92 462.89ZM266.69 460.98L272.7 461.59L270.18 465.91ZM290.05 467.93L293.63 463.06L296.07 467.42ZM302.65 460.87L299.07 465.74L296.63 461.38ZM284.2 495.1L281.7 489.6L286.7 489.6ZM284.2 477.9L286.7 483.4L281.7 483.4ZM635.41 446.57L629.79 448.8L630.04 443.8ZM614.19 445.53L619.81 443.3L619.56 448.3ZM667.51 445.79L662.12 448.53L661.9 443.53ZM648.79 446.61L654.18 443.87L654.4 448.87ZM619.36 465.79L614.45 462.27L618.78 459.78ZM610.84 451.01L615.75 454.53L611.42 457.02ZM626.84 466.33L628.27 460.46L632.2 463.55ZM637.96 452.17L636.53 458.04L632.6 454.95ZM655.23 468.57L650.24 465.16L654.52 462.57ZM645.57 452.63L650.56 456.04L646.28 458.63ZM661.88 468.4L662.28 462.37L666.68 464.74ZM671.02 451.4L670.62 457.43L666.22 455.06ZM652.02 473.8L646.35 475.88L646.72 470.89ZM629.38 472.1L635.05 470.02L634.68 475.01ZM638.41 498.32L633.46 494.85L637.77 492.32ZM626.09 477.38L631.04 480.85L626.73 483.38ZM645.11 498.27L645.64 492.25L649.99 494.72ZM655.39 480.13L654.86 486.15L650.51 483.68ZM481.5 620.4L479 614.9L484 614.9ZM481.5 603.6L484 609.1L479 609.1ZM464.68 642.91L466.98 637.32L470.4 640.97ZM476.62 631.69L474.32 637.28L470.9 633.63ZM498.61 643.82L492.93 641.76L496.42 638.19ZM486.29 631.78L491.97 633.84L488.48 637.41Z" fill="#1e1e1e" stroke="none"/>
</svg>
</body></html>
